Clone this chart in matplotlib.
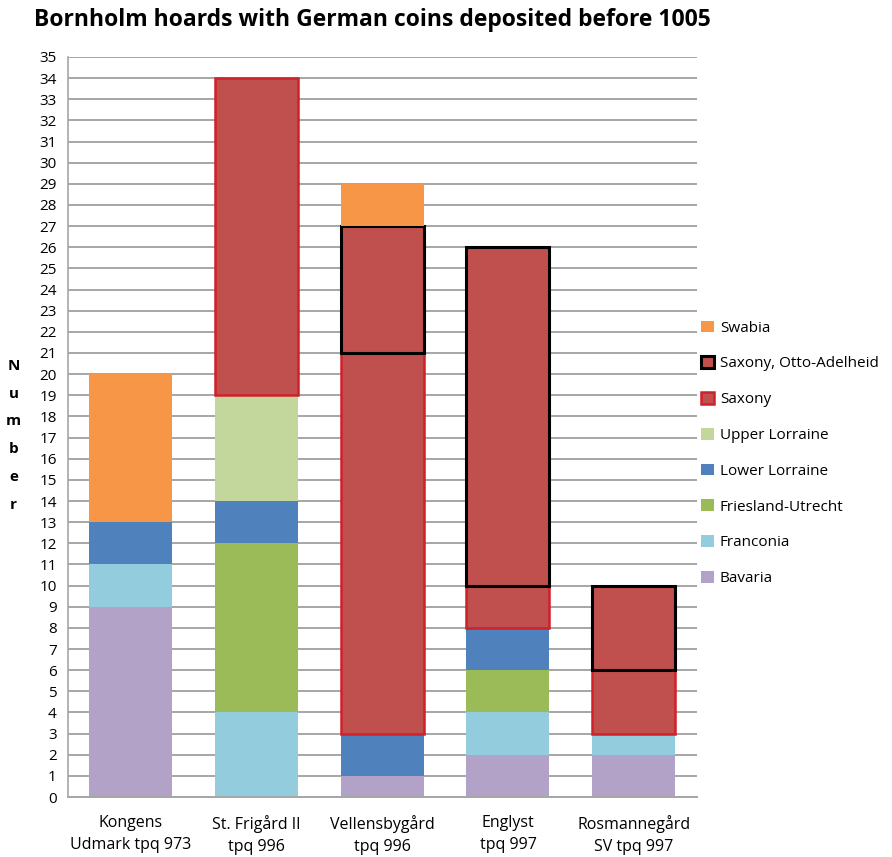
import numpy as np
import matplotlib
matplotlib.use("Agg")
from matplotlib import pyplot as plt
from matplotlib.patches import Patch

plt.rcParams['font.family'] = ['Open Sans', 'DejaVu Sans']

hoards = ["Kongens\nUdmark tpq 973", "St. Frigård II\ntpq 996", "Vellensbygård\ntpq 996",
          "Englyst\ntpq 997", "Rosmannegård\nSV tpq 997"]

# stacked bottom -> top
bavaria = [9, 0, 1, 2, 2]
franconia = [2, 4, 0, 2, 1]
friesland = [0, 8, 0, 2, 0]
lower_lorraine = [2, 2, 2, 2, 0]
upper_lorraine = [0, 5, 0, 0, 0]
saxony = [0, 15, 18, 2, 3]
saxony_oa = [0, 0, 6, 16, 4]
swabia = [7, 0, 2, 0, 0]

series = [
    ("Bavaria", bavaria, "#B3A2C7", "none", 0),
    ("Franconia", franconia, "#93CDDD", "none", 0),
    ("Friesland-Utrecht", friesland, "#9BBB59", "none", 0),
    ("Lower Lorraine", lower_lorraine, "#4F81BD", "none", 0),
    ("Upper Lorraine", upper_lorraine, "#C3D69B", "none", 0),
    ("Saxony", saxony, "#C0504D", "#D0202A", 1.8),
    ("Saxony, Otto-Adelheid", saxony_oa, "#C0504D", "black", 2.2),
    ("Swabia", swabia, "#F79646", "none", 0),
]

fig = plt.figure(figsize=(8.92, 8.57), dpi=100)
ax = fig.add_axes([0.076, 0.070, 0.705, 0.8635])

x = np.arange(len(hoards))
bottom = np.zeros(len(hoards))
handles = []
for name, vals, col, ec, lw in series:
    vals = np.array(vals, dtype=float)
    for i in range(len(x)):
        if vals[i] > 0:
            ax.bar(x[i], vals[i], 0.66, bottom=bottom[i], color=col,
                   edgecolor=ec, linewidth=lw, zorder=3)
    bottom += vals
    handles.append(Patch(facecolor=col, edgecolor=ec if ec != "none" else col,
                         linewidth=lw if lw else 0))

ax.set_xlim(-0.5, 4.5)
ax.set_ylim(0, 35)
ax.set_yticks(range(0, 36))
ax.set_xticks(x)
ax.set_xticklabels(hoards, fontsize=11.5, linespacing=1.5)
ax.tick_params(axis='y', labelsize=11, length=0, pad=8)
ax.tick_params(axis='x', length=0, pad=13)
ax.yaxis.grid(True, color="#A6A6A6", linewidth=1.4, zorder=0)
for s in ["top", "right"]:
    ax.spines[s].set_visible(False)
ax.spines["left"].set_color("#A6A6A6")
ax.spines["bottom"].set_color("#A6A6A6")
ax.spines["left"].set_linewidth(1.2)
ax.spines["bottom"].set_linewidth(1.4)
ax.spines["left"].set_zorder(4)
ax.spines["bottom"].set_zorder(4)

fig.text(0.418, 0.977, "Bornholm hoards with German coins deposited before 1005",
         ha="center", va="center", fontsize=16.5, fontweight="bold")

fig.text(0.015, 0.492, "N\nu\nm\nb\ne\nr", ha="center", va="center",
         fontsize=11, fontweight="bold", linespacing=2.25)

leg = fig.legend(handles[::-1], [s[0] for s in series][::-1], loc="center left",
                 bbox_to_anchor=(0.771, 0.471), frameon=False,
                 handlelength=0.8, handleheight=0.8, labelspacing=1.35,
                 handletextpad=0.4, prop={'size': 11})

fig.savefig("out.png", dpi=100)
